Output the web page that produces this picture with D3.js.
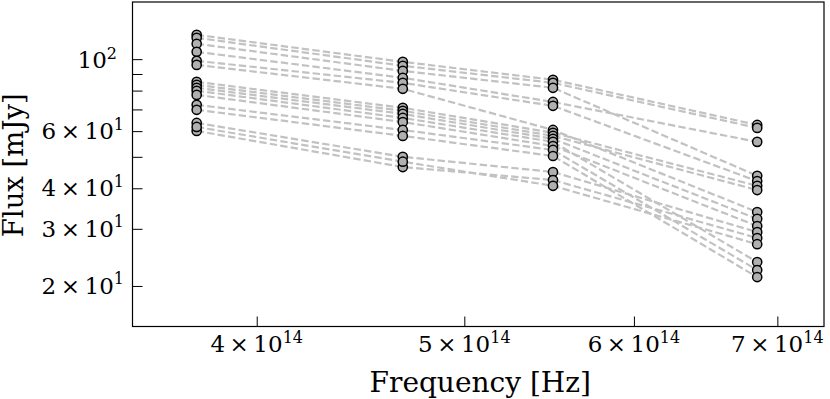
<!DOCTYPE html>
<html>
<head>
<meta charset="utf-8">
<script src="https://cdn.jsdelivr.net/npm/d3@7"></script>
<style>
body { margin: 0; background: #fff; }
text { font-family: "DejaVu Serif", serif; fill: #000; }
</style>
</head>
<body>
<div class="chart"></div>
<script>
// band frequencies (Hz) and fluxes (mJy) per source, one array per band
var freqs = [3.75e14, 4.68e14, 5.50e14, 6.85e14];
var fluxI = [118.8, 116.3, 111.5, 105.3, 98.8, 96.0, 85.1, 83.3, 81.6, 79.9, 77.6, 72.3, 69.8, 63.6, 60.1, 61.8];
var fluxR = [98.1, 95.4, 92.0, 87.6, 84.5, 81.0, 70.8, 69.3, 67.8, 65.9, 64.0, 60.5, 58.0, 50.0, 46.5, 48.3];
var fluxV = [86.4, 84.5, 81.6, 73.8, 71.8, 60.5, 59.3, 58.0, 56.8, 55.6, 54.0, 52.5, 50.3, 44.9, 42.4, 40.7];
var fluxB = [62.7, 61.4, 43.7, 55.6, 42.1, 33.8, 40.7, 39.5, 32.2, 23.7, 30.6, 22.4, 21.3, 29.3, 28.1, 26.9];

var xTicks = [4e14, 5e14, 6e14, 7e14];
var yTicks = [20, 30, 40, 50, 60, 70, 80, 90, 100];
var yLabelled = [20, 30, 40, 60, 100];

var width = 830, height = 399;
var plotL = 132.5, plotR = 824, plotT = 2, plotB = 326.5;

var x = d3.scaleLog().domain([3.5e14, 7.36e14]).range([plotL, plotR]);
var y = d3.scaleLog().domain([15, 150]).range([plotB, plotT]);

var sources = d3.range(fluxI.length).map(function (i) {
    return [fluxI[i], fluxR[i], fluxV[i], fluxB[i]].map(function (f, j) {
        return { nu: freqs[j], flux: f };
    });
});

var svg = d3.select(".chart")
    .append("svg")
    .attr("width", width)
    .attr("height", height);

var line = d3.line()
    .x(function (d) { return x(d.nu); })
    .y(function (d) { return y(d.flux); });

svg.append("g")
    .selectAll("path")
    .data(sources)
    .enter()
    .append("path")
    .attr("d", line)
    .attr("fill", "none")
    .attr("stroke", "#c2c2c2")
    .attr("stroke-width", 2.2)
    .attr("stroke-dasharray", "7.4,3.2");

svg.append("g")
    .selectAll("circle")
    .data(sources.flat())
    .enter()
    .append("circle")
    .attr("cx", function (d) { return x(d.nu); })
    .attr("cy", function (d) { return y(d.flux); })
    .attr("r", 4.6)
    .attr("fill", "#b0b0b0")
    .attr("stroke", "#000")
    .attr("stroke-width", 1.5);

// ticks point inward
var xAxis = svg.append("g")
    .attr("transform", "translate(0," + plotB + ")")
    .call(d3.axisBottom(x).tickValues(xTicks).tickSize(-10).tickFormat(""));
var yAxis = svg.append("g")
    .attr("transform", "translate(" + plotL + ",0)")
    .call(d3.axisLeft(y).tickValues(yTicks).tickSize(-10).tickFormat(""));
[xAxis, yAxis].forEach(function (a) {
    a.select(".domain").remove();
    a.selectAll("line").attr("stroke", "#000").attr("stroke-width", 1);
});

svg.append("rect")
    .attr("x", plotL)
    .attr("y", plotT)
    .attr("width", plotR - plotL)
    .attr("height", plotB - plotT)
    .attr("fill", "none")
    .attr("stroke", "#000")
    .attr("stroke-width", 1.2);

// "m × 10^e" labels
function sciLabel(sel, mant, expo) {
    if (mant !== 1) {
        sel.append("tspan").text(mant);
        sel.append("tspan").attr("dx", 4.5).text("×");
        sel.append("tspan").attr("dx", 4.5).text("10");
    } else {
        sel.append("tspan").text("10");
    }
    sel.append("tspan")
        .attr("dy", -9.5)
        .attr("font-size", 16)
        .text(expo);
}

svg.append("g")
    .selectAll("text")
    .data(xTicks)
    .enter()
    .append("text")
    .attr("x", function (d) { return x(d); })
    .attr("y", 352)
    .attr("text-anchor", "middle")
    .attr("font-size", 23)
    .each(function (d) { sciLabel(d3.select(this), Math.round(d / 1e14), "14"); });

svg.append("g")
    .selectAll("text")
    .data(yLabelled)
    .enter()
    .append("text")
    .attr("x", function (d) { return d === 100 ? 117 : 124; })
    .attr("y", function (d) { return y(d) + (d === 100 ? 9 : 8); })
    .attr("text-anchor", "end")
    .attr("font-size", 23)
    .each(function (d) {
        if (d === 100) sciLabel(d3.select(this), 1, "2");
        else sciLabel(d3.select(this), d / 10, "1");
    });

svg.append("text")
    .attr("x", (plotL + plotR) / 2 + 2)
    .attr("y", 392)
    .attr("text-anchor", "middle")
    .attr("font-size", 28)
    .text("Frequency [Hz]");

svg.append("text")
    .attr("transform", "translate(23," + ((plotT + plotB) / 2 + 1) + ") rotate(-90)")
    .attr("text-anchor", "middle")
    .attr("font-size", 27.5)
    .text("Flux [mJy]");
</script>
</body>
</html>
